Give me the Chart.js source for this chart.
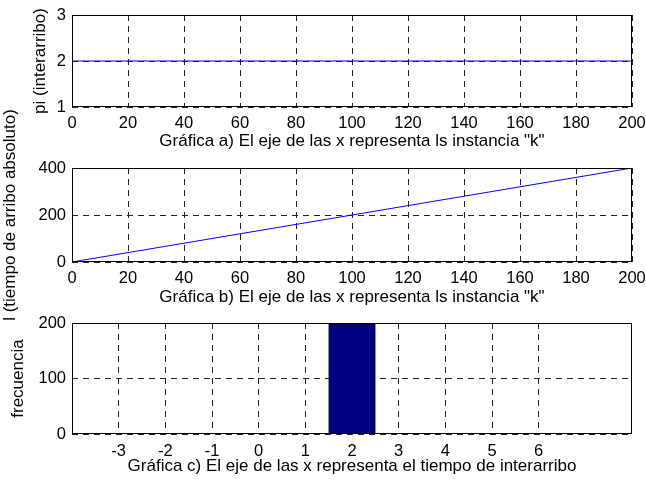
<!DOCTYPE html>
<html>
<head>
<meta charset="utf-8">
<script src="https://cdn.jsdelivr.net/npm/chart.js@4.4.1/dist/chart.umd.min.js"></script>
<style>
  html, body { margin: 0; padding: 0; background: #fff; }
  #wrap { position: relative; width: 646px; height: 479px; overflow: hidden; background: #fff; }
  canvas { position: absolute; left: 0; top: 0; }
</style>
</head>
<body>
<div id="wrap">
  <canvas id="cA" width="646" height="479"></canvas>
  <canvas id="cB" width="646" height="479"></canvas>
  <canvas id="cC" width="646" height="479"></canvas>
</div>
<script>
// ---- data ----
const instanciaK = [0, 20, 40, 60, 80, 100, 120, 140, 160, 180, 200];
const interarribo = [2, 2, 2, 2, 2, 2, 2, 2, 2, 2, 2];
const arriboAbsoluto = [0, 40, 80, 120, 160, 200, 240, 280, 320, 360, 400];
const histCentros = [2];
const histFrecuencia = [200];
const ticksX_c = [-3, -2, -1, 0, 1, 2, 3, 4, 5, 6];

const titleA = 'Gráfica a) El eje de las x representa ls instancia "k"';
const titleB = 'Gráfica b) El eje de las x representa ls instancia "k"';
const titleC = 'Gráfica c) El eje de las x representa el tiempo de interarribo';
const yTitleA = 'pi (interarribo)';
const yTitleB = 'l (tiempo de arribo absoluto)';
const yTitleC = 'frecuencia';

const H = 479;
Chart.defaults.font.family = '"Liberation Sans", Arial, sans-serif';
Chart.defaults.font.size = 16.5;
Chart.defaults.color = '#000';
const titleFont = { size: 17 };

const frame = {
  id: 'frame',
  afterDraw(chart) {
    const a = chart.chartArea, ctx = chart.ctx;
    ctx.save();
    ctx.strokeStyle = '#000';
    ctx.lineWidth = 1;
    ctx.setLineDash([]);
    const l = Math.round(a.left) + 0.5, t = Math.round(a.top) + 0.5;
    const r = Math.round(a.right) - 0.5, b = Math.round(a.bottom) - 0.5;
    ctx.strokeRect(l, t, r - l, b - t);
    ctx.restore();
  }
};

const dash = [6, 5];
const gridCol = '#222';

function xScale(min, max, step, title, xHeight, tickPad, ticksList) {
  const s = {
    type: 'linear', min: min, max: max, offset: false,
    grid: { color: gridCol, drawTicks: false, offset: false },
    border: { display: false, dash: dash },
    ticks: { padding: tickPad, maxRotation: 0, autoSkip: false },
    title: { display: true, text: title, font: titleFont, padding: { top: 0, bottom: 0 } },
    afterFit(sc) { sc.height = xHeight; sc.paddingLeft = 0; sc.paddingRight = 0; }
  };
  if (step) s.ticks.stepSize = step;
  if (ticksList) {
    s.afterBuildTicks = (sc) => { sc.ticks = ticksList.map(v => ({ value: v })); };
  }
  return s;
}
function yScale(min, max, step, title, titlePadTop, gridZ) {
  return {
    type: 'linear', min: min, max: max,
    grid: { color: gridCol, drawTicks: false, z: gridZ || 0 },
    border: { display: false, dash: dash },
    ticks: { stepSize: step, padding: 6 },
    title: { display: true, text: title, font: titleFont, padding: { top: titlePadTop, bottom: 0 } },
    afterFit(sc) { sc.width = 72; sc.paddingTop = 0; sc.paddingBottom = 0; }
  };
}
function layoutFor(plotTop, plotBottom, xHeight) {
  return { padding: { top: plotTop, left: 0, right: 14, bottom: H - plotBottom - xHeight } };
}
const commonOpts = {
  responsive: false, animation: false,
  plugins: { legend: { display: false }, tooltip: { enabled: false } },
};

new Chart(document.getElementById('cA'), {
  type: 'line',
  data: {
    datasets: [{ data: instanciaK.map((k, i) => ({ x: k, y: interarribo[i] })),
      borderColor: '#0000ff', borderWidth: 1, pointRadius: 0, tension: 0 }]
  },
  options: Object.assign({}, commonOpts, {
    layout: layoutFor(15, 107, 44.6),
    scales: {
      x: xScale(0, 200, 20, titleA, 44.6, 7),
      y: yScale(1, 3, 1, yTitleA, 30.5, 1)
    }
  }),
  plugins: [frame]
});

new Chart(document.getElementById('cB'), {
  type: 'line',
  data: {
    datasets: [{ data: instanciaK.map((k, i) => ({ x: k, y: arriboAbsoluto[i] })),
      borderColor: '#0000ff', borderWidth: 1, pointRadius: 0, tension: 0 }]
  },
  options: Object.assign({}, commonOpts, {
    layout: layoutFor(168, 262, 45.1),
    scales: {
      x: xScale(0, 200, 20, titleB, 45.1, 7),
      y: yScale(0, 400, 200, yTitleB, 0.5)
    }
  }),
  plugins: [frame]
});

new Chart(document.getElementById('cC'), {
  type: 'bar',
  data: {
    datasets: [{ data: histCentros.map((c, i) => ({ x: c, y: histFrecuencia[i] })),
      backgroundColor: '#000080', borderColor: '#000040', borderWidth: 1,
      barPercentage: 1, categoryPercentage: 1 }]
  },
  options: Object.assign({}, commonOpts, {
    layout: layoutFor(323, 434, 42.1),
    scales: {
      x: xScale(-4, 8, null, titleC, 42.1, 8, ticksX_c),
      y: yScale(0, 200, 100, yTitleC, 8.5)
    }
  }),
  plugins: [frame]
});
</script>
</body>
</html>
